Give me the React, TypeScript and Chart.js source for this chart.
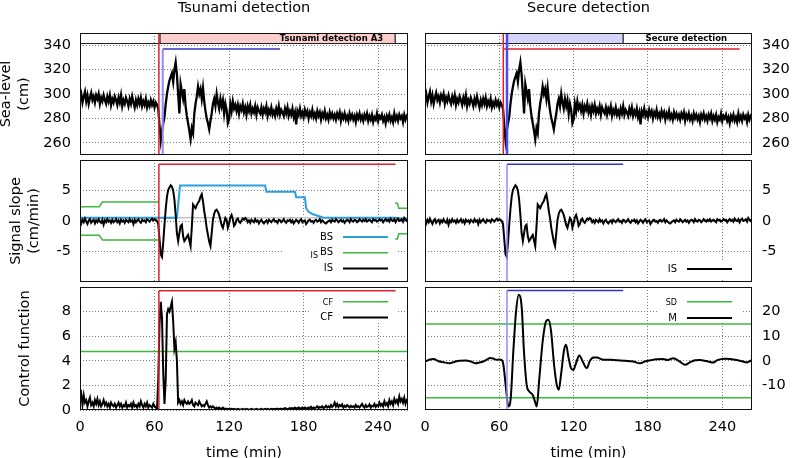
import React, { useEffect, useRef } from "react";
import { Chart, registerables } from "chart.js";

Chart.register(...registerables);

// ---------------- DATA ----------------
const timeTicks = [0, 60, 120, 180, 240];
const timeMax = 264;
const seaTicks = [260, 280, 300, 320, 340];
const seaRange = [250, 350];
const slopeTicks = [-5, 0, 5];
const slopeRange = [-10, 10];
const cfTicks = [0, 2, 4, 6, 8];
const cfRange = [0, 10];
const mTicks = [-10, 0, 10, 20];
const mRange = [-20, 30];

// sea level (cm), one value per minute from t = 0
const seaLevel = [
  296, 300, 293, 298, 302, 294, 299, 292, 297, 301,
  295, 298, 293, 299, 296, 300, 292, 297, 294, 299,
  295, 292, 298, 294, 299, 291, 296, 293, 298, 295,
  291, 297, 293, 299, 290, 295, 292, 297, 294, 290,
  296, 292, 298, 293, 289, 295, 291, 296, 292, 297,
  290, 294, 291, 296, 289, 293, 290, 295, 291, 294,
  289, 293, 291, 288, 274, 262, 270, 276, 281, 292,
  300, 306, 311, 314, 317, 310, 320, 326, 316, 300,
  284, 308, 302, 296, 304, 290, 282, 276, 270, 263,
  272, 268, 284, 292, 298, 306, 300, 304, 296, 305,
  294, 286, 280, 276, 271, 278, 284, 292, 296, 290,
  300, 293, 288, 296, 290, 295, 284, 292, 287, 276,
  279, 292, 286, 294, 288, 291, 286, 291, 284, 290,
  287, 292, 285, 289, 283, 290, 286, 291, 284, 288,
  285, 290, 283, 289, 286, 284, 289, 283, 288, 285,
  290, 282, 287, 284, 289, 283, 286, 282, 288, 284,
  290, 283, 287, 285, 282, 288, 284, 289, 282, 286,
  283, 288, 281, 285, 275, 286, 283, 288, 282, 285,
  281, 287, 283, 286, 280, 285, 282, 287, 281, 284,
  280, 286, 282, 285, 279, 284, 281, 286, 280, 283,
  279, 285, 281, 284, 280, 283, 279, 284, 281, 285,
  278, 283, 280, 284, 279, 282, 278, 284, 280, 283,
  279, 282, 277, 283, 280, 284, 279, 282, 278, 283,
  280, 284, 278, 282, 279, 283, 277, 281, 279, 284,
  278, 282, 280, 283, 278, 281, 276, 282, 279, 283,
  278, 281, 277, 284, 279, 282, 278, 283, 280, 282,
  277, 283, 279, 282, 284,
];

// signal slope IS (cm/min), one value per minute
const slopeIS = [
  0.3, -0.4, 0.2, -0.2, 0.4, -0.1, -0.5, 0.1, 0.3, -0.3,
  0.0, 0.2, -0.4, 0.1, -0.2, 0.3, -0.1, -0.3, 0.2, -0.6,
  0.1, -0.2, 0.3, -0.1, 0.1, -0.3, 0.2, -0.2, 0.0, 0.3,
  -0.2, 0.1, -0.4, 0.2, -0.1, 0.1, -0.3, 0.2, 0.0, -0.2,
  0.3, -0.1, 0.1, -0.5, 0.2, -0.2, 0.1, 0.3, -0.1, -0.3,
  0.2, 0.0, 0.1, -0.2, 0.3, 0.1, -0.1, 0.2, 0.4, 0.1,
  0.3, 0.2, 0.0, -0.5, -3.0, -5.5, -5.9, -3.5, -0.6, 2.0,
  4.0, 5.1, 5.5, 5.85, 5.6, 5.0, 3.5, 1.0, -2.0, -3.3,
  -2.0, -0.8, -0.6, -2.5, -3.3, -3.0, -2.6, -2.3, -3.2, -4.1,
  -1.0, 2.7, 2.4, 2.1, 2.6, 3.0, 3.3, 4.0, 4.4, 3.2,
  1.6, 0.4, -1.2, -2.3, -3.4, -4.1, -2.0, 0.2, 1.2, 1.7,
  1.85, 1.5, 1.0, 0.2, -0.7, -1.15, -0.3, 0.5, 0.2, -1.1,
  -0.4, 0.6, 1.0, 0.3, -0.8, -0.5, 0.2, 0.4, -0.1, -0.3,
  0.1, 0.4, 0.2, 0.5, 0.3, -0.2, 0.1, -0.3, 0.2, 0.0,
  -0.2, 0.3, -0.1, 0.1, -0.4, 0.0, 0.2, -0.2, -0.4, -0.1,
  0.1, -0.3, 0.2, 0.0, -0.2, 0.1, 0.3, -0.1, 0.0, -0.3,
  0.2, 0.1, -0.2, 0.0, 0.3, -0.1, -0.3, 0.1, 0.0, 0.2,
  -0.2, 0.1, -0.4, -0.1, 0.2, 0.0, -0.3, 0.1, 0.3, -0.2,
  0.0, 0.1, -0.5, -0.2, 0.1, 0.2, -0.1, 0.0, -0.3, 0.1,
  0.2, -0.1, 0.0, 0.3, -0.2, 0.1, -0.1, -0.3, -0.4, -0.2,
  0.0, 0.1, -0.2, 0.2, 0.0, -0.1, 0.3, 0.1, -0.2, 0.0,
  0.2, -0.1, 0.1, -0.3, 0.0, 0.2, 0.1, -0.2, 0.3, 0.0,
  -0.1, 0.2, 0.1, -0.2, 0.0, 0.3, 0.1, -0.1, 0.2, 0.0,
  0.3, -0.1, 0.1, 0.2, 0.0, -0.2, 0.3, 0.1, 0.2, -0.1,
  0.0, 0.3, 0.1, 0.2, -0.2, 0.1, 0.3, 0.0, 0.2, -0.1,
  0.4, 0.1, 0.0, 0.3, -0.2, 0.2, 0.4, 0.0, 0.1, 0.3,
  -0.1, 0.5, 0.2, 0.0, 0.3,
];

// control function CF, one value per minute
const controlCF = [
  0.9, 1.3, 0.4, 1.2, 0.6, 0.8, 0.3, 0.7, 1.0, 0.4,
  0.6, 0.3, 0.8, 0.5, 0.9, 0.4, 0.7, 0.3, 0.5, 0.8,
  0.4, 0.6, 0.3, 0.5, 0.2, 0.6, 0.4, 0.3, 0.5, 0.2,
  0.4, 0.6, 0.3, 0.5, 0.2, 0.4, 0.3, 0.6, 0.2, 0.4,
  0.3, 0.5, 0.2, 0.6, 0.3, 0.4, 0.2, 0.5, 0.3, 0.7,
  0.4, 0.2, 0.5, 0.3, 0.6, 0.2, 0.4, 0.3, 0.2, 0.5,
  0.3, 0.2, 0.1, 2.5, 7.0, 8.8, 7.5, 3.0, 0.5, 2.5,
  7.8, 8.2, 8.0, 8.4, 8.8, 7.2, 5.0, 5.5, 4.0, 0.6,
  0.8, 0.5, 0.7, 0.4, 0.8, 0.6, 0.5, 0.7, 0.5, 0.6,
  0.8, 0.4, 0.3, 0.6, 0.5, 0.4, 0.7, 0.5, 0.3, 0.4,
  0.3, 0.5, 0.7, 0.4, 0.2, 0.3, 0.2, 0.3, 0.2, 0.1,
  0.2, 0.1, 0.2, 0.1, 0.1, 0.2, 0.1, 0.1, 0.1, 0.05,
  0.1, 0.05, 0.1, 0.05, 0.1, 0.05, 0.05, 0.1, 0.05, 0.05,
  0.05, 0.1, 0.05, 0.05, 0.1, 0.05, 0.05, 0.05, 0.1, 0.05,
  0.05, 0.05, 0.1, 0.05, 0.05, 0.05, 0.1, 0.05, 0.05, 0.1,
  0.05, 0.1, 0.05, 0.05, 0.1, 0.05, 0.1, 0.05, 0.1, 0.1,
  0.05, 0.1, 0.1, 0.05, 0.1, 0.15, 0.1, 0.05, 0.1, 0.15,
  0.1, 0.15, 0.1, 0.2, 0.1, 0.15, 0.2, 0.1, 0.15, 0.2,
  0.1, 0.2, 0.15, 0.1, 0.2, 0.15, 0.25, 0.1, 0.2, 0.15,
  0.2, 0.3, 0.15, 0.25, 0.2, 0.3, 0.15, 0.2, 0.35, 0.2,
  0.3, 0.2, 0.4, 0.25, 0.35, 0.6, 0.3, 0.5, 0.25, 0.4,
  0.3, 0.45, 0.2, 0.35, 0.25, 0.4, 0.3, 0.2, 0.35, 0.25,
  0.3, 0.2, 0.4, 0.25, 0.3, 0.2, 0.35, 0.5, 0.3, 0.2,
  0.4, 0.25, 0.3, 0.45, 0.2, 0.35, 0.3, 0.5, 0.25, 0.4,
  0.3, 0.6, 0.35, 0.5, 0.3, 0.7, 0.4, 0.55, 0.3, 0.8,
  0.5, 0.7, 0.4, 0.9, 0.6, 0.8, 0.5, 1.1, 0.7, 0.9,
  0.6, 1.0, 0.5, 0.8, 0.7,
];

// BS (background slope) step curve
const bsTime = [0, 78, 80.5, 149, 150, 173, 174, 181, 182, 184, 187, 196, 255, 258, 264];
const bsValue = [0.55, 0.55, 5.8, 5.8, 4.8, 4.8, 3.9, 3.9, 2.1, 1.5, 1.15, 0.55, 0.55, 0.35, 0.35];
const bsRefTime = [0, 264];
const bsRefValue = [0.55, 0.55];

// IS BS bounds (green)
const isbsTime = [0, 15.5, 18, 63.5, 63.6, 253.7, 255.5, 256.5, 264];
const isbsUpper = [2.35, 2.35, 3.1, 3.1, null, 2.9, 2.9, 2.1, 2.1];
const isbsLower = [-2.35, -2.35, -3.1, -3.1, null, -2.95, -2.95, -2.1, -2.1];

// M (secure detection signal)
const mTime = [0, 4, 7, 11, 15, 20, 24, 28, 33, 37, 41, 44, 47, 50, 52.5, 55, 58, 60, 62, 63.3,
  65.1, 67.3, 69.2, 71.3, 73.5, 75.7, 78.1, 79.9, 82.1, 84.2, 87, 88.8, 90.2, 92.3, 95, 97.7, 99.6, 101.8, 104.2, 106.4,
  108, 109.8, 112.3, 113.9, 115.7, 117.9, 119.8, 121.9, 124.6, 127.3, 130.6, 133.2, 136, 138.7, 144, 149.4, 155, 162, 168, 173.6,
  178, 182, 187, 192, 196, 200.3, 205.7, 210, 214, 218, 222, 227, 232.8, 236, 239.5, 243, 246.2, 251.6, 256, 259.8, 264];
const mValue = [-0.3, 0.5, 0.7, -0.2, -0.6, -1.0, -0.4, 0.0, 0.1, -0.3, -1.0, -0.7, -0.3, 0.5, 1.1, 0.9, 0.4, 0.5, 0.3, -1.6,
  -9.8, -18.6, -15.2, 3.8, 20, 26.9, 21.5, 3.8, -9.8, -12.5, -13.9, -16.6, -18.6, -7.1, 7.9, 16, 16.7, 12, -1.6, -9.8,
  -11.8, -5.7, 4.5, 6.5, 1.8, -3.0, -3.7, -1.0, 2.2, -0.3, -3.0, 0.0, 1.3, 1.3, 0.4, 0.4, 0.2, 0.0, -0.3, -1.0,
  -0.2, 0.2, 0.6, 0.7, 0.3, 1.0, -0.3, -1.6, -0.6, 0.2, 0.3, -0.1, -0.7, 0.3, 0.7, 0.8, 0.7, 0.3, -0.2, -0.7, 0.4];

// thresholds
const cfThreshold = 4.75;
const sdThreshold = [15, -15];

// detection markers (time in min, flag levels per panel)
const tsuRedTime = 63.5;
const tsuBlueTime = 66.6;
const tsuRedEnd = 254;
const tsuBlueEnd = 161;
const secRedTime = 63.2;
const secBlueTime = 66.2;
const secRedEnd = 254;
const secBlueEnd = 160;
const seaFlag = 336.8;
const slopeFlag = 9.3;
const cfFlag = 9.7;
const mFlag = 28.6;

// status bars
const statusLow = 341.6;
const tsunamiBand = [64.4, 253.7];
const secureBand = [66.4, 160];

// ---------------- HELPERS ----------------
type Pt = { x: number; y: number | null };
const perMinute = (v: number[]): Pt[] => v.map((y, i) => ({ x: i, y }));
const pairs = (xs: number[], ys: (number | null)[]): Pt[] => xs.map((x, i) => ({ x, y: ys[i] }));
const seg = (x1: number, y1: number, x2: number, y2: number): Pt[] => [
  { x: x1, y: y1 },
  { x: x2, y: y2 },
];

const FONT = '"DejaVu Sans", "Liberation Sans", sans-serif';
const RED = "#e3202a";
const BLUE_V_LIGHT = "#8c8cff";
const BLUE_V = "#4a4af5";
const BLUE_H = "#3434c4";
const GREEN = "#3fb83f";
const BS_BLUE = "#2b9fe2";

function ln(data: Pt[], color: string, width: number, order: number, extra: any = {}) {
  return {
    data,
    borderColor: color,
    backgroundColor: color,
    borderWidth: width,
    pointRadius: 0,
    pointHoverRadius: 0,
    fill: false,
    tension: 0,
    spanGaps: false,
    order,
    ...extra,
  };
}

const framePlugin = {
  id: "frame",
  afterDatasetsDraw(chart: any) {
    const { ctx, chartArea } = chart;
    const { left, top, right, bottom } = chartArea;
    ctx.save();
    ctx.strokeStyle = "#111";
    ctx.lineWidth = 1;
    ctx.strokeRect(Math.round(left) + 0.5, Math.round(top) + 0.5, Math.round(right - left) - 1, Math.round(bottom - top) - 1);
    ctx.restore();
  },
};

interface StatusCfg {
  fills: { from: number; to: number; color: string }[];
  dividers: number[];
  text: string;
  textAt: number;
  align: "right" | "center";
}

function makeStatusPlugin(cfg: StatusCfg) {
  return {
    id: "statusBar",
    beforeDatasetsDraw(chart: any) {
      const { ctx, chartArea, scales } = chart;
      const xs = scales.x;
      const ys = scales.y;
      const yTop = ys.getPixelForValue(seaRange[1]);
      const yBot = ys.getPixelForValue(statusLow);
      ctx.save();
      for (const f of cfg.fills) {
        const x1 = xs.getPixelForValue(f.from);
        const x2 = xs.getPixelForValue(f.to);
        ctx.fillStyle = f.color;
        ctx.fillRect(x1, yTop, x2 - x1, yBot - yTop);
      }
      ctx.strokeStyle = "#222";
      ctx.lineWidth = 1.2;
      ctx.beginPath();
      ctx.moveTo(chartArea.left, Math.round(yBot) + 0.5);
      ctx.lineTo(chartArea.right, Math.round(yBot) + 0.5);
      ctx.stroke();
      ctx.strokeStyle = "#444";
      ctx.lineWidth = 1.5;
      for (const d of cfg.dividers) {
        const x = xs.getPixelForValue(d);
        ctx.beginPath();
        ctx.moveTo(x, yTop);
        ctx.lineTo(x, yBot);
        ctx.stroke();
      }
      ctx.fillStyle = "#000";
      ctx.font = `bold 8.5px ${FONT}`;
      ctx.textAlign = cfg.align;
      ctx.textBaseline = "middle";
      ctx.fillText(cfg.text, xs.getPixelForValue(cfg.textAt), (yTop + yBot) / 2 + 0.5);
      ctx.restore();
    },
  };
}

interface LegendEntry {
  text: string;
  size: number;
  y: number;
  ty?: number;
  pre?: string;
  preSize?: number;
  preDy?: number;
  color: string;
  width: number;
}
interface LegendCfg {
  box: { x: number; y: number; w: number; h: number };
  textRight: number;
  lineFrom: number;
  lineTo: number;
  entries: LegendEntry[];
}

function makeLegendPlugin(cfg: LegendCfg) {
  return {
    id: "gnuLegend",
    beforeDatasetsDraw(chart: any) {
      const { ctx, chartArea: ca } = chart;
      ctx.save();
      ctx.fillStyle = "#fff";
      ctx.fillRect(ca.right + cfg.box.x, ca.top + cfg.box.y, cfg.box.w, cfg.box.h);
      for (const e of cfg.entries) {
        const y = ca.top + e.y;
        const tx = ca.right + cfg.textRight;
        ctx.fillStyle = "#000";
        ctx.textAlign = "right";
        ctx.textBaseline = "middle";
        ctx.font = `${e.size}px ${FONT}`;
        ctx.fillText(e.text, tx, y + (e.ty || 0));
        if (e.pre) {
          const w = ctx.measureText(e.text).width;
          ctx.font = `${e.preSize || 8}px ${FONT}`;
          ctx.fillText(e.pre, tx - w - 2, y + (e.preDy || 0));
        }
        ctx.strokeStyle = e.color;
        ctx.lineWidth = e.width;
        ctx.beginPath();
        ctx.moveTo(ca.right + cfg.lineFrom, y);
        ctx.lineTo(ca.right + cfg.lineTo, y);
        ctx.stroke();
      }
      ctx.restore();
    },
  };
}

interface Panel {
  left: number;
  top: number;
  width: number;
  height: number;
  padding: { left: number; right: number; top: number; bottom: number };
  yPos: "left" | "right";
  yWidth: number;
  xHeight: number;
  showX: boolean;
  yRange: number[];
  yTicks: number[];
  yTitle?: string | string[];
  yTitlePad?: number;
  title?: string;
  datasets: any[];
  legend?: LegendCfg;
  status?: StatusCfg;
}

const LEFT_COL = { left: 0, width: 412, yPos: "left" as const, yWidth: 80, pl: 0, pr: 4 };
const RIGHT_COL = { left: 415, width: 378, yPos: "right" as const, yWidth: 41, pl: 10, pr: 0 };
const ROW_TOP = { top: 0, height: 158, pt: 0, pb: 3, xHeight: 0, showX: false };
const ROW_MID = { top: 156, height: 129, pt: 4, pb: 3, xHeight: 0, showX: false };
const ROW_BOT = { top: 283, height: 179, pt: 4, pb: 0, xHeight: 52, showX: true };

function place(col: any, row: any) {
  return {
    left: col.left,
    top: row.top,
    width: col.width,
    height: row.height,
    padding: { left: col.pl, right: col.pr, top: row.pt, bottom: row.pb },
    yPos: col.yPos,
    yWidth: col.yWidth,
    xHeight: row.xHeight,
    showX: row.showX,
  };
}

function buildPanels(): Panel[] {
  const sea = perMinute(seaLevel);
  const isCurve = perMinute(slopeIS);
  return [
    {
      ...place(LEFT_COL, ROW_TOP),
      yRange: seaRange,
      yTicks: seaTicks,
      yTitle: ["Sea-level", "(cm)"],
      yTitlePad: -2.5,
      title: "Tsunami detection",
      status: {
        fills: [{ from: tsunamiBand[0], to: tsunamiBand[1], color: "#fbcece" }],
        dividers: [tsunamiBand[0], tsunamiBand[1]],
        text: "Tsunami detection A3",
        textAt: 244,
        align: "right",
      },
      datasets: [
        ln(seg(tsuRedTime, seaRange[0], tsuRedTime, seaRange[1]), RED, 1.5, 0),
        ln(seg(tsuBlueTime, seaRange[0], tsuBlueTime, seaFlag), BLUE_V_LIGHT, 2, 0),
        ln(seg(tsuBlueTime, seaFlag, tsuBlueEnd, seaFlag), BLUE_H, 1.5, 0),
        ln(sea, "#000", 2.3, 1),
      ],
    },
    {
      ...place(RIGHT_COL, ROW_TOP),
      yRange: seaRange,
      yTicks: seaTicks,
      title: "Secure detection",
      status: {
        fills: [{ from: secureBand[0], to: secureBand[1], color: "#d4d4fb" }],
        dividers: [secureBand[0], secureBand[1]],
        text: "Secure detection",
        textAt: 211,
        align: "center",
      },
      datasets: [
        ln(seg(secRedTime, seaRange[0], secRedTime, seaRange[1]), RED, 1.5, 0),
        ln(seg(secBlueTime, seaRange[0], secBlueTime, seaRange[1]), BLUE_V, 2.5, 0),
        ln(seg(secRedTime, seaFlag, secRedEnd, seaFlag), RED, 1.5, 0),
        ln(sea, "#000", 2.3, 1),
      ],
    },
    {
      ...place(LEFT_COL, ROW_MID),
      yRange: slopeRange,
      yTicks: slopeTicks,
      yTitle: ["Signal slope", "(cm/min)"],
      yTitlePad: 7.5,
      legend: {
        box: { x: -125, y: 68, w: 113, h: 54 },
        textRight: -75,
        lineFrom: -65,
        lineTo: -20,
        entries: [
          { text: "BS", size: 10, y: 77, color: BS_BLUE, width: 2 },
          { text: "BS", pre: "IS", size: 10, preSize: 8, preDy: 3.5, ty: -0.5, y: 92.7, color: GREEN, width: 1.5 },
          { text: "IS", size: 10, y: 108.5, color: "#000", width: 2 },
        ],
      },
      datasets: [
        ln(seg(tsuRedTime, slopeRange[0], tsuRedTime, slopeFlag), RED, 1.5, 0),
        ln(seg(tsuRedTime, slopeFlag, tsuRedEnd, slopeFlag), RED, 1.5, 0),
        ln(isCurve, "#000", 2, 1),
        ln(pairs(bsTime, bsValue), BS_BLUE, 2, 2),
        ln(pairs(isbsTime, isbsUpper), GREEN, 1.5, 3),
        ln(pairs(isbsTime, isbsLower), GREEN, 1.5, 3),
        ln(pairs(bsRefTime, bsRefValue), "#c4c4c4", 1.5, 4),
      ],
    },
    {
      ...place(RIGHT_COL, ROW_MID),
      yRange: slopeRange,
      yTicks: slopeTicks,
      legend: {
        box: { x: -92, y: 100, w: 84, h: 18 },
        textRight: -75,
        lineFrom: -65,
        lineTo: -20,
        entries: [{ text: "IS", size: 10, y: 109, color: "#000", width: 2 }],
      },
      datasets: [
        ln(seg(secBlueTime, slopeRange[0], secBlueTime, slopeFlag), BLUE_V_LIGHT, 1.5, 0),
        ln(seg(secBlueTime, slopeFlag, secBlueEnd, slopeFlag), BLUE_H, 1.5, 0),
        ln(isCurve, "#000", 2, 1),
      ],
    },
    {
      ...place(LEFT_COL, ROW_BOT),
      yRange: cfRange,
      yTicks: cfTicks,
      yTitle: "Control function",
      yTitlePad: 16,
      legend: {
        box: { x: -98, y: 1, w: 86, h: 35 },
        textRight: -75,
        lineFrom: -65,
        lineTo: -20,
        entries: [
          { text: "CF", size: 8, y: 14.7, ty: 1.6, color: GREEN, width: 1.5 },
          { text: "CF", size: 10, y: 30.5, color: "#000", width: 2 },
        ],
      },
      datasets: [
        ln(seg(tsuRedTime, cfRange[0], tsuRedTime, cfFlag), RED, 1.5, 0),
        ln(seg(tsuRedTime, cfFlag, tsuRedEnd, cfFlag), RED, 1.5, 0),
        ln(perMinute(controlCF), "#000", 2, 1),
        ln(seg(0, cfThreshold, timeMax, cfThreshold), GREEN, 1.5, 2),
      ],
    },
    {
      ...place(RIGHT_COL, ROW_BOT),
      yRange: mRange,
      yTicks: mTicks,
      legend: {
        box: { x: -95, y: 1, w: 86, h: 34 },
        textRight: -75,
        lineFrom: -65,
        lineTo: -20,
        entries: [
          { text: "SD", size: 8, y: 14.7, ty: 1.6, color: GREEN, width: 1.5 },
          { text: "M", size: 10, y: 31, color: "#000", width: 2 },
        ],
      },
      datasets: [
        ln(seg(secBlueTime, mRange[0], secBlueTime, mFlag), BLUE_V_LIGHT, 1.5, 0),
        ln(seg(secBlueTime, mFlag, secBlueEnd, mFlag), BLUE_H, 1.5, 0),
        ln(pairs(mTime, mValue), "#000", 2, 1, { cubicInterpolationMode: "monotone" }),
        ln(seg(0, sdThreshold[0], timeMax, sdThreshold[0]), GREEN, 1.5, 2),
        ln(seg(0, sdThreshold[1], timeMax, sdThreshold[1]), GREEN, 1.5, 2),
      ],
    },
  ];
}

function buildOptions(p: Panel): any {
  const font = { family: FONT, size: 14.5, lineHeight: 1.2, weight: "normal" };
  const gridColor = "#7a7a7a";
  return {
    responsive: false,
    maintainAspectRatio: false,
    animation: false,
    events: [],
    layout: { padding: p.padding },
    plugins: {
      legend: { display: false },
      tooltip: { enabled: false },
      title: p.title
        ? {
            display: true,
            text: p.title,
            fullSize: false,
            color: "#000",
            font,
            padding: { top: 0, bottom: 15.6 },
          }
        : { display: false },
    },
    scales: {
      x: {
        type: "linear",
        min: 0,
        max: timeMax,
        afterBuildTicks: (s: any) => {
          s.ticks = timeTicks.map((v) => ({ value: v }));
        },
        afterFit: (s: any) => {
          s.height = p.xHeight;
          s.paddingLeft = 0;
          s.paddingRight = 0;
          s.paddingTop = 0;
          s.paddingBottom = 0;
        },
        grid: { color: gridColor, lineWidth: 1, drawTicks: false },
        border: { display: false, dash: [1, 2] },
        ticks: { display: p.showX, padding: 8.3, font, color: "#000", maxRotation: 0, autoSkip: false },
        title: { display: p.showX, text: "time (min)", font, color: "#000", padding: 0 },
      },
      y: {
        type: "linear",
        position: p.yPos,
        min: p.yRange[0],
        max: p.yRange[1],
        afterBuildTicks: (s: any) => {
          s.ticks = p.yTicks.map((v) => ({ value: v }));
        },
        afterFit: (s: any) => {
          s.width = p.yWidth;
          s.paddingLeft = 0;
          s.paddingRight = 0;
          s.paddingTop = 0;
          s.paddingBottom = 0;
        },
        grid: { color: gridColor, lineWidth: 1, drawTicks: false },
        border: { display: false, dash: [1, 2] },
        ticks: { padding: p.yPos === "left" ? 9 : 10, font, color: "#000", autoSkip: false },
        title: p.yTitle
          ? {
              display: true,
              text: p.yTitle,
              color: "#000",
              font: { family: FONT, size: 14.5, lineHeight: 1.25, weight: "normal" },
              padding: { top: p.yTitlePad || 0, bottom: 0 },
            }
          : { display: false },
      },
    },
  };
}

export default function App() {
  const refs = useRef<(HTMLCanvasElement | null)[]>([]);
  const panelsForLayout = buildPanels();

  useEffect(() => {
    const panels = buildPanels();
    const charts = panels.map((p, i) => {
      const canvas = refs.current[i] as HTMLCanvasElement;
      const plugins: any[] = [framePlugin];
      if (p.status) plugins.push(makeStatusPlugin(p.status));
      if (p.legend) plugins.push(makeLegendPlugin(p.legend));
      return new Chart(canvas, {
        type: "line",
        data: { datasets: p.datasets },
        options: buildOptions(p),
        plugins,
      } as any);
    });
    return () => charts.forEach((c) => c.destroy());
  }, []);

  return (
    <div
      style={{
        position: "absolute",
        left: 0,
        top: 0,
        width: 793,
        height: 458,
        overflow: "hidden",
        background: "#fff",
      }}
    >
      {panelsForLayout.map((p, i) => (
        <canvas
          key={i}
          ref={(el) => {
            refs.current[i] = el;
          }}
          width={p.width}
          height={p.height}
          style={{ position: "absolute", left: p.left, top: p.top, width: p.width, height: p.height }}
        />
      ))}
    </div>
  );
}
